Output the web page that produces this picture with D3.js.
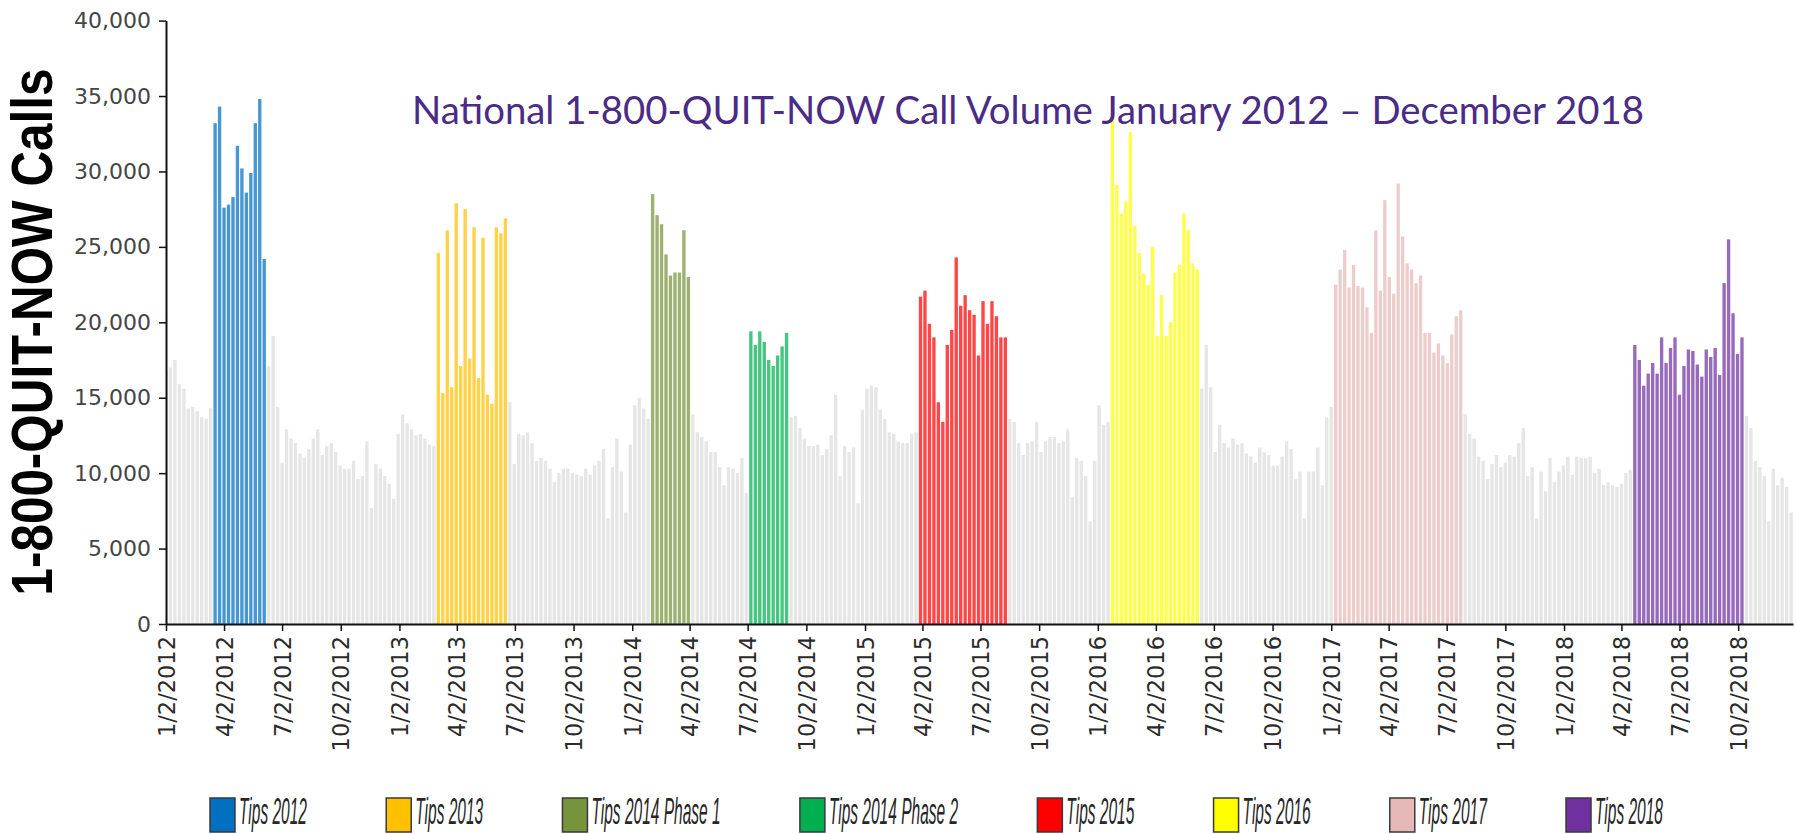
<!DOCTYPE html>
<html>
<head>
<meta charset="utf-8">
<script src="https://cdn.jsdelivr.net/npm/d3@7"></script>
<style>
  html, body { margin: 0; padding: 0; background: #fff; }
  svg { display: block; }
</style>
</head>
<body>
<svg id="chart"></svg>
<script>
// Weekly calls to 1-800-QUIT-NOW, in thousands. One value per week, weeks start on Monday 1/2/2012.
const firstWeek = '1/2/2012';
const lastDay = '12/27/2018';

const calls2012 = [16.8, 17.0, 17.5, 15.9, 15.6, 14.3, 14.4, 14.1, 13.7, 13.6, 14.3,
  33.2, 34.3, 27.6, 27.8, 28.3, 31.7, 30.2, 28.6, 29.9, 33.2, 34.8, 24.2,
  17.1, 19.1, 14.4, 10.7, 12.9, 12.3, 12.0, 11.3, 11.0, 11.6, 12.3, 12.9, 11.2, 11.8, 12.0,
  11.4, 10.5, 10.3, 10.3, 10.8, 9.6, 9.8, 12.1, 7.7, 10.6, 10.3, 9.8, 9.3, 8.3, 12.6];
const calls2013 = [13.9, 13.3, 12.9, 12.5, 12.6, 12.3, 11.9, 11.8,
  24.6, 15.3, 26.1, 15.7, 27.9, 17.1, 27.5, 17.6, 26.3, 16.3, 25.6, 15.2, 14.6, 26.3, 25.9, 26.9,
  14.7, 10.6, 12.6, 12.5, 12.7, 12.0, 10.8, 11.0, 10.8, 10.3, 9.4, 10.0, 10.3, 10.3,
  10.0, 9.9, 9.8, 10.3, 9.9, 10.5, 10.8, 11.6, 7.0, 10.4, 12.3, 10.1, 7.4, 11.9];
const calls2014 = [14.5, 15.0, 14.3, 13.6,
  28.5, 27.1, 26.5, 24.5, 23.1, 23.3, 23.3, 26.1, 23.0,
  13.9, 12.7, 12.4, 12.1, 11.4, 11.4, 10.4, 9.2, 10.4, 10.3, 10.0, 11.0, 8.7,
  19.4, 18.5, 19.4, 18.7, 17.5, 17.1, 17.8, 18.4, 19.3,
  13.7, 13.8, 13.0, 12.3, 11.8, 11.8, 11.9, 11.2, 11.6, 12.5, 15.2, 9.8, 11.8, 11.4, 11.7, 8.0, 14.2];
const calls2015 = [15.6, 15.8, 15.7, 14.2, 13.6, 12.7, 12.6, 12.1, 12.0, 12.0, 12.6, 12.7,
  21.7, 22.1, 19.9, 19.0, 14.7, 13.4, 18.5, 19.5, 24.3, 21.1, 21.8, 20.8, 20.5, 17.8, 21.4, 19.9,
  21.4, 20.4, 19.0, 19.0,
  13.6, 13.4, 12.0, 11.2, 12.0, 12.1, 13.4, 11.4, 12.1, 12.4, 12.4, 12.0, 12.1, 12.9, 8.4, 11.0,
  10.8, 9.8, 6.8, 10.8];
const calls2016 = [14.5, 13.2, 13.4,
  33.8, 29.1, 27.2, 28.0, 32.6, 26.4, 24.6, 23.2, 22.5, 25.0, 19.1, 21.8, 19.1, 20.0, 23.3, 23.8,
  27.2, 26.1, 23.9, 23.5,
  15.6, 18.5, 15.7, 11.4, 13.2, 12.0, 11.7, 12.3, 11.9, 12.0, 11.3, 11.1, 10.7, 11.7, 11.4, 11.2,
  10.5, 10.5, 11.1, 12.1, 11.6, 9.6, 10.1, 7.0, 10.1, 10.1, 11.7, 9.2, 13.7];
const calls2017 = [14.4,
  22.5, 23.5, 24.8, 22.3, 23.8, 22.4, 22.3, 21.0, 19.3, 26.1, 22.1, 28.1, 23.0, 21.9, 29.2, 25.7,
  23.9, 23.5, 22.6, 23.1, 19.3, 19.3, 18.0, 18.6, 17.8, 17.3, 19.2, 20.4, 20.8,
  13.9, 12.6, 12.3, 11.1, 10.8, 9.6, 10.6, 11.2, 10.4, 10.7, 11.2, 11.1, 12.0,
  13.0, 9.8, 10.4, 7.0, 10.1, 8.8, 11.0, 9.4, 10.1];
const calls2018 = [10.5, 11.1, 9.9, 11.1, 11.0, 11.0, 11.1, 10.0, 10.3, 9.2, 9.4, 9.2, 9.1, 9.3, 10.0, 10.2,
  18.5, 17.5, 15.8, 16.6, 17.3, 16.6, 19.0, 17.3, 18.3, 19.0, 15.2, 17.1, 18.2, 18.1, 17.2, 16.4,
  18.2, 17.7, 18.3, 16.5, 22.6, 25.5, 20.6, 17.9, 19.0,
  13.8, 13.0, 10.8, 10.4, 9.8, 6.8, 10.3, 9.2, 9.7, 9.1, 7.4];

// Tips campaign periods (first and last week on air)
const campaignNames = ['Tips 2012', 'Tips 2013', 'Tips 2014 Phase 1', 'Tips 2014 Phase 2',
  'Tips 2015', 'Tips 2016', 'Tips 2017', 'Tips 2018'];
const campaignStarts = ['3/19/2012', '3/4/2013', '2/3/2014', '7/7/2014',
  '3/30/2015', '1/25/2016', '1/9/2017', '4/23/2018'];
const campaignEnds = ['6/4/2012', '6/17/2013', '3/31/2014', '9/1/2014',
  '8/10/2015', '6/6/2016', '7/24/2017', '10/8/2018'];

const tickLabels = ['1/2/2012', '4/2/2012', '7/2/2012', '10/2/2012',
  '1/2/2013', '4/2/2013', '7/2/2013', '10/2/2013',
  '1/2/2014', '4/2/2014', '7/2/2014', '10/2/2014',
  '1/2/2015', '4/2/2015', '7/2/2015', '10/2/2015',
  '1/2/2016', '4/2/2016', '7/2/2016', '10/2/2016',
  '1/2/2017', '4/2/2017', '7/2/2017', '10/2/2017',
  '1/2/2018', '4/2/2018', '7/2/2018', '10/2/2018'];
const yTicks = [0, 5000, 10000, 15000, 20000, 25000, 30000, 35000, 40000];

const campaignColors = ['#0070c0', '#ffc000', '#77933c', '#00b050',
  '#ff0000', '#ffff00', '#e6b9b8', '#7030a0'];
const otherWeekColor = '#e6e6e6';

let width = 1796;
let height = 834;
let plot = { left: 166, right: 1793, top: 20.6, bottom: 624 };

const parseDate = d3.utcParse('%m/%d/%Y');

let svg = d3.select('#chart')
  .attr('width', width)
  .attr('height', height)
  .style('font-family', "'DejaVu Sans', Verdana, sans-serif");

let x = d3.scaleUtc()
  .domain([parseDate(firstWeek), parseDate(lastDay)])
  .range([plot.left, plot.right]);

let y = d3.scaleLinear()
  .domain([0, 40000])
  .range([plot.bottom, plot.top]);

// One row per week
const allWeeks = [].concat(calls2012, calls2013, calls2014, calls2015, calls2016, calls2017, calls2018);
const start = parseDate(firstWeek);
const campaignRanges = campaignStarts.map(function (s, k) {
  return [parseDate(s), parseDate(campaignEnds[k])];
});

const weeks = allWeeks.map(function (v, i) {
  let date = d3.utcDay.offset(start, 7 * i);
  let campaign = campaignRanges.findIndex(function (r) { return date >= r[0] && date <= r[1]; });
  return { date: date, calls: v * 1000, campaign: campaign };
});

let step = x(d3.utcDay.offset(start, 7)) - x(start);
let barWidth = step - 1.1;

// Campaign bars look washed out in the original
function barColor(d) {
  if (d.campaign < 0) return otherWeekColor;
  return d3.interpolateRgb('#ffffff', campaignColors[d.campaign])(0.72);
}

svg.append('clipPath')
  .attr('id', 'plot-clip')
  .append('rect')
  .attr('x', plot.left)
  .attr('y', 0)
  .attr('width', plot.right - plot.left)
  .attr('height', plot.bottom);

svg.append('g')
  .attr('clip-path', 'url(#plot-clip)')
  .selectAll('rect')
  .data(weeks)
  .enter().append('rect')
  .attr('x', function (d) { return x(d.date) - barWidth / 2; })
  .attr('y', function (d) { return y(d.calls); })
  .attr('width', barWidth)
  .attr('height', function (d) { return y(0) - y(d.calls); })
  .attr('fill', barColor);

// Y axis
let yAxis = svg.append('g')
  .attr('transform', 'translate(' + plot.left + ',0)')
  .call(d3.axisLeft(y)
    .tickValues(yTicks)
    .tickFormat(d3.format(','))
    .tickSize(7)
    .tickSizeOuter(0)
    .tickPadding(8));
yAxis.select('.domain').attr('stroke', '#111').attr('stroke-width', 2);
yAxis.selectAll('.tick line').attr('stroke', '#111').attr('stroke-width', 1.5);
yAxis.selectAll('.tick text')
  .attr('font-size', 22)
  .attr('fill', '#454545')
  .style('font-family', "'DejaVu Sans', Verdana, sans-serif");

// X axis, labels rotated to read upwards
let xAxis = svg.append('g')
  .attr('transform', 'translate(0,' + plot.bottom + ')')
  .call(d3.axisBottom(x)
    .tickValues(tickLabels.map(parseDate))
    .tickFormat(function (d, i) { return tickLabels[i]; })
    .tickSize(7)
    .tickSizeOuter(0));
xAxis.select('.domain').attr('stroke', '#111').attr('stroke-width', 2);
xAxis.selectAll('.tick line').attr('stroke', '#111').attr('stroke-width', 1.5);
xAxis.selectAll('.tick text')
  .attr('transform', 'rotate(-90)')
  .attr('text-anchor', 'end')
  .attr('x', -12)
  .attr('y', 0)
  .attr('dy', '0.36em')
  .attr('font-size', 22.5)
  .attr('fill', '#2b2b2b')
  .style('font-family', "'DejaVu Sans', Verdana, sans-serif");

// Y axis title, narrowed to the length it has in the original
let yTitle = svg.append('g');
let yTitleText = yTitle.append('text')
  .attr('text-anchor', 'middle')
  .attr('font-family', "'Liberation Sans', Arial, sans-serif")
  .attr('font-weight', 'bold')
  .attr('font-size', 57)
  .attr('fill', '#000')
  .text('1-800-QUIT-NOW Calls');
let yTitleScale = 527 / yTitleText.node().getComputedTextLength();
yTitle.attr('transform', 'translate(52,332)rotate(-90)scale(' + yTitleScale + ',1)');

// Chart title
svg.append('text')
  .attr('x', 412)
  .attr('y', 124)
  .attr('font-family', 'Lato, "Open Sans", sans-serif')
  .attr('font-size', 39)
  .attr('fill', '#4a2c86')
  .attr('textLength', 1232)
  .attr('lengthAdjust', 'spacingAndGlyphs')
  .text('National 1-800-QUIT-NOW Call Volume January 2012 \u2013 December 2018');

// Legend: tall, narrow italic labels as in the original picture
let legendLeft = 210;
let legendRight = 1663;
let swatchW = 25;
let swatchH = 34;

let legend = svg.append('g');
let items = legend.selectAll('g.item')
  .data(campaignNames)
  .enter().append('g')
  .attr('class', 'item');

items.append('rect')
  .attr('y', 798)
  .attr('width', swatchW)
  .attr('height', swatchH)
  .attr('fill', function (d, i) { return campaignColors[i]; })
  .attr('stroke', '#3a3a3a')
  .attr('stroke-width', 1.5);

let labelBoxes = items.append('g');
let labels = labelBoxes.append('text')
  .attr('font-family', "'Liberation Sans', Arial, sans-serif")
  .attr('font-style', 'italic')
  .attr('font-size', 37)
  .attr('fill', '#262626')
  .text(function (d) { return d; });

// squeeze text so "Tips 2012" is about 68px wide
let natural = [];
labels.each(function () { natural.push(this.getComputedTextLength()); });
let squeeze = 68 / natural[0];
labelBoxes.attr('transform', 'translate(' + (swatchW + 4) + ',824)scale(' + squeeze + ',1)');

let itemWidths = natural.map(function (w) { return swatchW + 4 + w * squeeze; });
let gap = (legendRight - legendLeft - d3.sum(itemWidths)) / (itemWidths.length - 1);
let offsets = [];
itemWidths.reduce(function (acc, w) { offsets.push(acc); return acc + w + gap; }, legendLeft);
items.attr('transform', function (d, i) { return 'translate(' + offsets[i] + ',0)'; });
</script>
</body>
</html>
